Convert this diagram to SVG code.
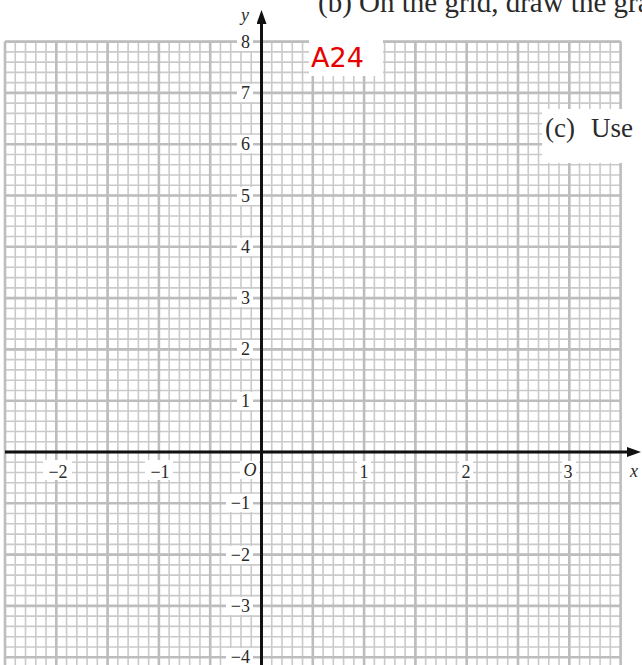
<svg xmlns="http://www.w3.org/2000/svg" width="642" height="665" viewBox="0 0 642 665">
<style>
.minor{fill:none;stroke:#cacaca;stroke-width:1.6}
.major{fill:none;stroke:#bdbdbd;stroke-width:2.6}
.axis{fill:none;stroke:#111;stroke-width:3}
.bg{fill:#fff}
.num{font-family:"Liberation Serif","Times New Roman",serif;font-size:18px;fill:#2a2a2a}
.ylab{text-anchor:end}
.xlab{text-anchor:middle}
.it{font-style:italic}
.q{font-family:"Liberation Serif","Times New Roman",serif;font-size:27px;fill:#2a2a2a}
.top{font-size:29px}
.tag{font-family:"DejaVu Sans",sans-serif;font-size:27px;fill:#e60000}
</style>
<defs>
<marker id="arrow" viewBox="0 0 14 10" refX="0" refY="5" markerWidth="14" markerHeight="10" markerUnits="userSpaceOnUse" orient="auto">
<path d="M0 0L14 5L0 10z" fill="#111"/>
</marker>
</defs>
<rect width="642" height="665" fill="#fff"/>
<g id="grid">
<path class="minor" d="M5 41.6v623.4m10.26-623.4v623.4m10.26-623.4v623.4m10.26-623.4v623.4m10.26-623.4v623.4m10.26-623.4v623.4m10.26-623.4v623.4m10.26-623.4v623.4m10.26-623.4v623.4m10.26-623.4v623.4m10.26-623.4v623.4m10.26-623.4v623.4m10.26-623.4v623.4m10.26-623.4v623.4m10.26-623.4v623.4m10.26-623.4v623.4m10.26-623.4v623.4m10.26-623.4v623.4m10.26-623.4v623.4m10.26-623.4v623.4m10.26-623.4v623.4m10.26-623.4v623.4m10.26-623.4v623.4m10.26-623.4v623.4m10.26-623.4v623.4m10.26-623.4v623.4m10.26-623.4v623.4m10.26-623.4v623.4m10.26-623.4v623.4m10.26-623.4v623.4m10.26-623.4v623.4m10.26-623.4v623.4m10.26-623.4v623.4m10.26-623.4v623.4m10.26-623.4v623.4m10.26-623.4v623.4m10.26-623.4v623.4m10.26-623.4v623.4m10.26-623.4v623.4m10.26-623.4v623.4m10.26-623.4v623.4m10.26-623.4v623.4m10.26-623.4v623.4m10.26-623.4v623.4m10.26-623.4v623.4m10.26-623.4v623.4m10.26-623.4v623.4m10.26-623.4v623.4m10.26-623.4v623.4m10.26-623.4v623.4m10.26-623.4v623.4m10.26-623.4v623.4m10.26-623.4v623.4m10.26-623.4v623.4m10.26-623.4v623.4m10.26-623.4v623.4m10.26-623.4v623.4m10.26-623.4v623.4m10.26-623.4v623.4m10.26-623.4v623.4"/>
<path class="minor" d="M5 41.6h615.6m-615.6 10.26h615.6m-615.6 10.26h615.6m-615.6 10.26h615.6m-615.6 10.26h615.6m-615.6 10.26h615.6m-615.6 10.26h615.6m-615.6 10.26h615.6m-615.6 10.26h615.6m-615.6 10.26h615.6m-615.6 10.26h615.6m-615.6 10.26h615.6m-615.6 10.26h615.6m-615.6 10.26h615.6m-615.6 10.26h615.6m-615.6 10.26h615.6m-615.6 10.26h615.6m-615.6 10.26h615.6m-615.6 10.26h615.6m-615.6 10.26h615.6m-615.6 10.26h615.6m-615.6 10.26h615.6m-615.6 10.26h615.6m-615.6 10.26h615.6m-615.6 10.26h615.6m-615.6 10.26h615.6m-615.6 10.26h615.6m-615.6 10.26h615.6m-615.6 10.26h615.6m-615.6 10.26h615.6m-615.6 10.26h615.6m-615.6 10.26h615.6m-615.6 10.26h615.6m-615.6 10.26h615.6m-615.6 10.26h615.6m-615.6 10.26h615.6m-615.6 10.26h615.6m-615.6 10.26h615.6m-615.6 10.26h615.6m-615.6 10.26h615.6m-615.6 10.26h615.6m-615.6 10.26h615.6m-615.6 10.26h615.6m-615.6 10.26h615.6m-615.6 10.26h615.6m-615.6 10.26h615.6m-615.6 10.26h615.6m-615.6 10.26h615.6m-615.6 10.26h615.6m-615.6 10.26h615.6m-615.6 10.26h615.6m-615.6 10.26h615.6m-615.6 10.26h615.6m-615.6 10.26h615.6m-615.6 10.26h615.6m-615.6 10.26h615.6m-615.6 10.26h615.6m-615.6 10.26h615.6m-615.6 10.26h615.6m-615.6 10.26h615.6m-615.6 10.26h615.6"/>
<path class="major" d="M5 41.6v623.4m51.3-623.4v623.4m51.3-623.4v623.4m51.3-623.4v623.4m51.3-623.4v623.4m51.3-623.4v623.4m51.3-623.4v623.4m51.3-623.4v623.4m51.3-623.4v623.4m51.3-623.4v623.4m51.3-623.4v623.4m51.3-623.4v623.4m51.3-623.4v623.4"/>
<path class="major" d="M5 41.6h615.6m-615.6 51.3h615.6m-615.6 51.3h615.6m-615.6 51.3h615.6m-615.6 51.3h615.6m-615.6 51.3h615.6m-615.6 51.3h615.6m-615.6 51.3h615.6m-615.6 51.3h615.6m-615.6 51.3h615.6m-615.6 51.3h615.6m-615.6 51.3h615.6m-615.6 51.3h615.6"/>
</g>
<g id="label-backgrounds">
<rect class="bg" x="237" y="33" width="16" height="18"/>
<rect class="bg" x="237" y="84" width="16" height="18"/>
<rect class="bg" x="237" y="135" width="16" height="18"/>
<rect class="bg" x="237" y="187" width="16" height="18"/>
<rect class="bg" x="237" y="238" width="16" height="18"/>
<rect class="bg" x="237" y="289" width="16" height="18"/>
<rect class="bg" x="237" y="340" width="16" height="18"/>
<rect class="bg" x="237" y="392" width="16" height="18"/>
<rect class="bg" x="226" y="494" width="27" height="18"/>
<rect class="bg" x="226" y="546" width="27" height="18"/>
<rect class="bg" x="226" y="597" width="27" height="18"/>
<rect class="bg" x="226" y="648" width="27" height="17"/>
<rect class="bg" x="240" y="461" width="19" height="18"/>
<rect class="bg" x="43" y="460" width="29" height="20"/>
<rect class="bg" x="145" y="460" width="28" height="20"/>
<rect class="bg" x="357" y="461" width="14" height="19"/>
<rect class="bg" x="459" y="461" width="14" height="19"/>
<rect class="bg" x="562" y="461" width="14" height="19"/>
</g>
<g id="note-a24">
<rect class="bg" x="309" y="30" width="74" height="46"/>
<text class="tag" x="311" y="67">A24</text>
</g>
<g id="note-c">
<rect class="bg" x="542" y="109" width="100" height="54"/>
<text class="q" x="545" y="137">(c)<tspan x="591">Use</tspan></text>
</g>
<g id="note-b">
<text class="q top" x="318" y="12">(b) On the grid, draw the gra</text>
</g>
<g id="axes">
<path class="axis" d="M5 452H627" marker-end="url(#arrow)"/>
<path class="axis" d="M261.5 665V24" marker-end="url(#arrow)"/>
</g>
<g id="axis-labels" class="num">
<text class="it" x="245" y="21" text-anchor="middle">y</text>
<text class="it" x="634" y="477" text-anchor="middle">x</text>
<text class="it" x="250" y="476" text-anchor="middle">O</text>
<text class="ylab" x="250" y="48">8</text>
<text class="ylab" x="250" y="99">7</text>
<text class="ylab" x="250" y="150">6</text>
<text class="ylab" x="250" y="202">5</text>
<text class="ylab" x="250" y="253">4</text>
<text class="ylab" x="250" y="304">3</text>
<text class="ylab" x="250" y="355">2</text>
<text class="ylab" x="250" y="407">1</text>
<text class="ylab" x="250" y="509">−1</text>
<text class="ylab" x="250" y="561">−2</text>
<text class="ylab" x="250" y="612">−3</text>
<text class="ylab" x="250" y="663">−4</text>
<text class="xlab" x="58" y="478">−2</text>
<text class="xlab" x="160" y="478">−1</text>
<text class="xlab" x="364" y="478">1</text>
<text class="xlab" x="466" y="478">2</text>
<text class="xlab" x="568" y="478">3</text>
</g>
</svg>
